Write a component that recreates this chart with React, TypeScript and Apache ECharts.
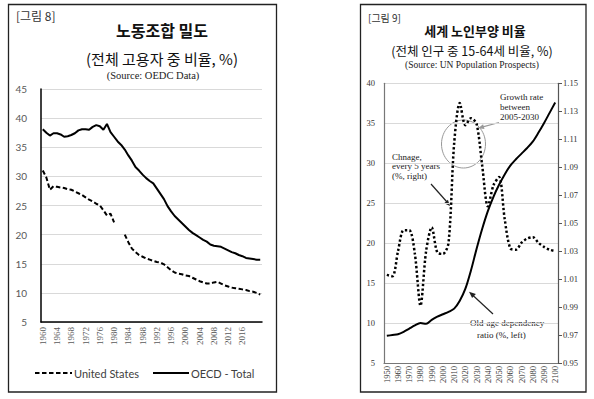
import React, { useEffect, useRef } from "react";
import * as echarts from "echarts";

// ---------- Left chart data: union density (% of employees) ----------
const unionYears: string[] = Array.from({ length: 62 }, (_, i) => String(1960 + i));
const usDensity: (number | null)[] = [
  31.0, 29.8, 27.7, 28.3, 28.2, 28.1, 28.0, 27.8, 27.7, 27.4,
  27.1, 26.8, 26.4, 26.0, 25.7, 25.3, 25.0, 24.2, 23.3, 23.6,
  22.1, null, null, 20.0, 18.7, 17.6, 17.0, 16.5, 16.2, 15.9,
  15.7, 15.5, 15.3, 15.2, 14.9, 14.4, 13.9, 13.5, 13.3, 13.2,
  13.0, 12.9, 12.6, 12.3, 12.0, 11.8, 11.6, 11.6, 11.8, 11.9,
  11.6, 11.3, 11.1, 10.9, 10.8, 10.7, 10.6, 10.5, 10.3, 10.2,
  10.0, 9.7,
];
const oecdDensity: number[] = [
  38.1, 37.5, 37.0, 37.4, 37.4, 37.2, 36.8, 36.9, 37.1, 37.4,
  37.9, 38.1, 38.1, 38.0, 38.5, 38.8, 38.6, 38.0, 39.0, 37.6,
  36.8, 36.0, 35.4, 34.6, 33.6, 32.7, 31.6, 31.0, 30.3, 29.7,
  29.2, 28.8, 27.9, 27.0, 26.1, 24.9, 24.0, 23.2, 22.6, 22.0,
  21.4, 20.8, 20.3, 19.9, 19.5, 19.1, 18.8, 18.3, 18.1, 18.0,
  17.9, 17.6, 17.3, 17.0, 16.8, 16.5, 16.3, 16.0, 15.9, 15.8,
  15.7, 15.7,
];
const lastLabelledYear = 2016;

// ---------- Right chart data: world old-age dependency ----------
const popYears: string[] = Array.from({ length: 31 }, (_, i) => String(1950 + i * 5));
const oldAgeRatio: number[] = [
  8.4, 8.5, 8.6, 8.9, 9.3, 9.7, 10.0, 9.9, 10.4, 10.8,
  11.1, 11.4, 11.8, 12.8, 14.3, 16.6, 19.3, 21.8, 24.0, 25.8,
  27.3, 28.6, 29.7, 30.5, 31.2, 31.9, 32.7, 33.8, 35.0, 36.3,
  37.6,
];
const changeEvery5: number[] = [
  1.013, 1.012, 1.030, 1.045, 1.045, 1.028, 0.991, 1.030, 1.047, 1.029,
  1.028, 1.036, 1.107, 1.136, 1.120, 1.125, 1.121, 1.091, 1.062, 1.077,
  1.083, 1.053, 1.032, 1.031, 1.036, 1.039, 1.040, 1.036, 1.033, 1.031,
  1.030,
];

const KR = '"Noto Sans CJK KR", "Noto Sans", sans-serif';
const SERIF = '"Liberation Serif", "DejaVu Serif", serif';
const SANS = 'Lato, "Liberation Sans", sans-serif';

export default function App() {
  const ref = useRef<HTMLDivElement>(null);
  useEffect(() => {
    if (!ref.current) return;
    const chart = echarts.init(ref.current, undefined, { renderer: "svg" });

    const txt = (x: number, y: number, text: string, style: any, extra: any = {}) => ({
      type: "text",
      x,
      y,
      silent: true,
      style: { text, fill: "#222", ...style },
      ...extra,
    });

    chart.setOption({
      animation: false,
      backgroundColor: "#ffffff",
      grid: [
        { left: 41, top: 89, width: 221, height: 233 },
        { left: 384, top: 83.3, width: 174, height: 279.7 },
      ],
      xAxis: [
        {
          type: "category",
          gridIndex: 0,
          data: unionYears,
          boundaryGap: true,
          axisLine: { show: true, lineStyle: { color: "#000", width: 1.5 } },
          axisTick: { show: false },
          axisLabel: {
            rotate: 90,
            margin: 5,
            fontSize: 9,
            fontFamily: SERIF,
            color: "#595959",
            interval: (idx: number, val: string) => idx % 4 === 0 && Number(val) <= lastLabelledYear,
          },
          splitLine: { show: false },
        },
        {
          type: "category",
          gridIndex: 1,
          data: popYears,
          boundaryGap: true,
          axisLine: { show: true, lineStyle: { color: "#777", width: 1.2 } },
          axisTick: { show: false },
          axisLabel: {
            rotate: 90,
            margin: 3,
            fontSize: 8.5,
            fontFamily: SERIF,
            color: "#333",
            interval: 1,
          },
          splitLine: { show: false },
        },
      ],
      yAxis: [
        {
          type: "value",
          gridIndex: 0,
          min: 5,
          max: 45,
          interval: 5,
          axisLine: { show: true, lineStyle: { color: "#000", width: 1.5 } },
          axisTick: { show: false },
          axisLabel: { margin: 14, fontSize: 10, fontFamily: SANS, color: "#595959" },
          splitLine: { show: true, lineStyle: { color: "#d9d9d9", width: 1 } },
        },
        {
          type: "value",
          gridIndex: 1,
          min: 5,
          max: 40,
          interval: 5,
          axisLine: { show: true, lineStyle: { color: "#777", width: 1.2 } },
          axisTick: { show: false },
          axisLabel: { margin: 9, fontSize: 8.5, fontFamily: SERIF, color: "#333" },
          splitLine: { show: true, lineStyle: { color: "#d9d9d9", width: 1 } },
        },
        {
          type: "value",
          gridIndex: 1,
          position: "right",
          min: 0.95,
          max: 1.15,
          interval: 0.02,
          axisLine: { show: true, lineStyle: { color: "#555", width: 1.2 } },
          axisTick: { show: true, length: 4, lineStyle: { color: "#555" } },
          axisLabel: {
            margin: 5,
            fontSize: 8.5,
            fontFamily: SERIF,
            color: "#333",
            formatter: (v: number) => v.toFixed(2),
          },
          splitLine: { show: false },
        },
      ],
      series: [
        {
          name: "United States",
          type: "line",
          xAxisIndex: 0,
          yAxisIndex: 0,
          data: usDensity,
          symbol: "none",
          connectNulls: false,
          lineStyle: { color: "#000", width: 2, type: [4.5, 2.5] },
        },
        {
          name: "OECD - Total",
          type: "line",
          xAxisIndex: 0,
          yAxisIndex: 0,
          data: oecdDensity,
          symbol: "none",
          lineStyle: { color: "#000", width: 2 },
        },
        {
          name: "Old-age dependency ratio (%, left)",
          type: "line",
          xAxisIndex: 1,
          yAxisIndex: 1,
          data: oldAgeRatio,
          symbol: "none",
          smooth: 0.3,
          lineStyle: { color: "#000", width: 2 },
        },
        {
          name: "Chnage, every 5 years (%, right)",
          type: "line",
          xAxisIndex: 1,
          yAxisIndex: 2,
          data: changeEvery5,
          symbol: "none",
          smooth: 0.3,
          lineStyle: { color: "#000", width: 2.5, type: [2.3, 2.3], cap: "butt" },
        },
      ],
      graphic: [
        // frames
        { type: "rect", silent: true, shape: { x: 8.5, y: 4.5, width: 268, height: 387.5 }, style: { fill: "none", stroke: "#222", lineWidth: 1.3 } },
        { type: "rect", silent: true, shape: { x: 360.5, y: 4.5, width: 225.5, height: 387.5 }, style: { fill: "none", stroke: "#222", lineWidth: 1.3 } },
        // left titles
        txt(16, 15, "[그림 8]", { font: `12px ${KR}`, fill: "#333", verticalAlign: "middle" }),
        txt(162, 30, "노동조합 밀도", { font: `bold 16px ${KR}`, fill: "#111", align: "center", verticalAlign: "middle" }),
        txt(162, 58, "(전체 고용자 중 비율, %)", { font: `15px ${KR}`, fill: "#111", align: "center", verticalAlign: "middle" }),
        txt(153, 75, "(Source: OEDC Data)", { font: `10.5px ${SERIF}`, fill: "#222", align: "center", verticalAlign: "middle" }),
        // left legend
        { type: "line", silent: true, shape: { x1: 35, y1: 373, x2: 72, y2: 373 }, style: { stroke: "#000", lineWidth: 2, lineDash: [4.5, 2.5] } },
        txt(74, 373, "United States", { font: `11px ${SANS}`, fill: "#404040", verticalAlign: "middle" }),
        { type: "line", silent: true, shape: { x1: 153, y1: 373, x2: 189, y2: 373 }, style: { stroke: "#000", lineWidth: 2 } },
        txt(191, 373, "OECD - Total", { font: `11px ${SANS}`, fill: "#404040", verticalAlign: "middle" }),
        // right titles
        txt(368, 17, "[그림 9]", { font: `10px ${KR}`, fill: "#333", verticalAlign: "middle" }),
        txt(475, 30, "세계 노인부양 비율", { font: `bold 13px ${KR}`, fill: "#111", align: "center", verticalAlign: "middle" }),
        txt(472, 50, "(전체 인구 중 15-64세 비율, %)", { font: `12.5px ${KR}`, fill: "#111", align: "center", verticalAlign: "middle" }),
        txt(472, 65, "(Source: UN Population Prospects)", { font: `9.5px ${SERIF}`, fill: "#222", align: "center", verticalAlign: "middle" }),
        // annotations
        txt(392, 152, "Chnage,\nevery 5 years\n(%, right)", { font: `9px ${SERIF}`, fill: "#222", lineHeight: 9.5, verticalAlign: "top" }),
        { type: "line", silent: true, shape: { x1: 431, y1: 184, x2: 447, y2: 202 }, style: { stroke: "#222", lineWidth: 1.2 } },
        { type: "polygon", silent: true, shape: { points: [[450, 206], [444.1, 203.2], [447.9, 199.8]] }, style: { fill: "#222" } },
        { type: "ellipse", silent: true, shape: { cx: 463.5, cy: 144, rx: 22, ry: 24 }, style: { fill: "none", stroke: "#999", lineWidth: 1 } },
        txt(500, 92, "Growth rate\nbetween\n2005-2030", { font: `9px ${SERIF}`, fill: "#222", lineHeight: 10, verticalAlign: "top" }),
        { type: "line", silent: true, shape: { x1: 499, y1: 122.5, x2: 482, y2: 127.2 }, style: { stroke: "#999", lineWidth: 1.2 } },
        { type: "polygon", silent: true, shape: { points: [[478, 128.3], [483.1, 124.2], [484.5, 129.0]] }, style: { fill: "#999" } },
        txt(470, 323, "Old-age dependency", { font: `9px ${SERIF}`, fill: "#222", verticalAlign: "middle" }),
        txt(477, 335, "ratio (%, left)", { font: `9px ${SERIF}`, fill: "#222", verticalAlign: "middle" }),
        { type: "line", silent: true, shape: { x1: 493, y1: 314, x2: 472.5, y2: 295 }, style: { stroke: "#222", lineWidth: 1.2 } },
        { type: "polygon", silent: true, shape: { points: [[469, 291.8], [472.1, 298.1], [475.9, 294.0]] }, style: { fill: "#222" } },
      ],
    });
    return () => chart.dispose();
  }, []);
  return (
    <div
      ref={ref}
      style={{ position: "fixed", left: 0, top: 0, width: 594, height: 399, background: "#fff" }}
    />
  );
}
